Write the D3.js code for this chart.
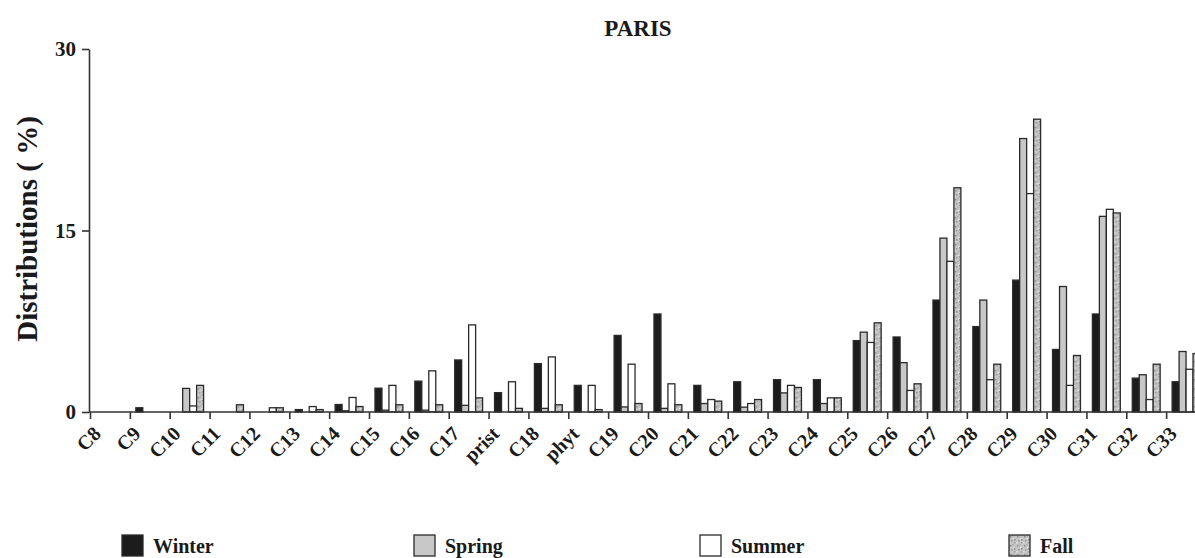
<!DOCTYPE html>
<html>
<head>
<meta charset="utf-8">
<script src="https://cdn.jsdelivr.net/npm/d3@7"></script>
<style>
  body { margin: 0; background: #fff; }
  text { font-family: "Liberation Serif", "Times New Roman", serif; font-weight: bold; fill: #1a1a1a; }
</style>
</head>
<body>
<div id="chart"></div>
<script>
var categories = ["C8", "C9", "C10", "C11", "C12", "C13", "C14", "C15", "C16", "C17", "prist", "C18", "phyt",
    "C19", "C20", "C21", "C22", "C23", "C24", "C25", "C26", "C27", "C28", "C29", "C30", "C31", "C32", "C33"];
var seasons = ["Winter", "Spring", "Summer", "Fall"];

var winter = [0, 0.35, 0, 0, 0, 0.2, 0.62, 1.97, 2.55, 4.3, 1.6, 4.0, 2.2, 6.33, 8.1, 2.2, 2.5, 2.67, 2.67, 5.9, 6.2, 9.25, 7.06, 10.9, 5.17, 8.1, 2.8, 2.5];
var spring = [0, 0, 1.95, 0, 0, 0, 0.1, 0.15, 0.15, 0.55, 0, 0.3, 0, 0.42, 0.3, 0.7, 0.4, 1.58, 0.7, 6.6, 4.08, 14.37, 9.25, 22.6, 10.37, 16.17, 3.08, 5.0];
var summer = [0, 0, 0.5, 0, 0.35, 0.45, 1.2, 2.2, 3.4, 7.2, 2.5, 4.55, 2.2, 3.95, 2.33, 1.03, 0.7, 2.2, 1.17, 5.75, 1.78, 12.45, 2.67, 18.05, 2.2, 16.75, 1.03, 3.53];
var fall = [0, 0, 2.2, 0.6, 0.35, 0.2, 0.45, 0.6, 0.6, 1.17, 0.3, 0.6, 0.2, 0.7, 0.6, 0.9, 1.03, 2.03, 1.17, 7.37, 2.33, 18.53, 3.95, 24.2, 4.67, 16.45, 3.95, 4.83];
var yTicks = [0, 15, 30];

function drawChart() {
    var w = 1195;
    var h = 558;
    var left = 89;
    var step = 39.857;
    var series = [winter, spring, summer, fall];

    var svg = d3.select("#chart")
        .append("svg")
        .attr("width", w)
        .attr("height", h);

    // speckled grey fill for the fall bars
    var pat = svg.append("defs").append("pattern")
        .attr("id", "speckle")
        .attr("patternUnits", "userSpaceOnUse")
        .attr("width", 7)
        .attr("height", 9);
    pat.append("rect").attr("width", 7).attr("height", 9).attr("fill", "#c4c4c4");
    [[1, 1, "#8e8e8e"], [4, 3, "#e6e6e6"], [2, 5, "#9a9a9a"], [5, 7, "#a2a2a2"], [0, 7, "#e0e0e0"], [3, 0, "#b0b0b0"], [5, 4, "#8a8a8a"]]
        .forEach(function(p) {
            pat.append("rect").attr("x", p[0]).attr("y", p[1]).attr("width", 1.5).attr("height", 1.5).attr("fill", p[2]);
        });

    var fills = ["#1c1c1c", "#c8c8c8", "#ffffff", "url(#speckle)"];

    var x = d3.scaleBand()
        .domain(categories)
        .range([left + 1, left + 1 + step * categories.length])
        .paddingInner(0.3)
        .paddingOuter(0.15);
    var xTick = d3.scalePoint()
        .domain(categories)
        .range([left + 1, left + 1 + step * (categories.length - 1)]);
    var xs = d3.scaleBand()
        .domain(seasons)
        .range([0, x.bandwidth()]);
    var y = d3.scaleLinear()
        .domain([0, 30])
        .range([412, 49]);

    // bars
    var groups = svg.selectAll("g.cat")
        .data(categories)
        .enter()
        .append("g")
        .attr("class", "cat")
        .attr("transform", function(d) { return "translate(" + x(d) + ",0)"; });

    groups.selectAll("rect")
        .data(function(d, i) {
            return seasons.map(function(s, j) { return { s: s, j: j, v: series[j][i] }; })
                .filter(function(e) { return e.v > 0; });
        })
        .enter()
        .append("rect")
        .attr("x", function(d) { return xs(d.s); })
        .attr("y", function(d) { return y(d.v); })
        .attr("width", xs.bandwidth())
        .attr("height", function(d) { return y(0) - y(d.v); })
        .attr("fill", function(d) { return fills[d.j]; })
        .attr("stroke", "#2a2a2a")
        .attr("stroke-width", 1.3);

    // x axis
    var xAxis = svg.append("g")
        .attr("transform", "translate(0," + y(0) + ")")
        .call(d3.axisBottom(xTick).tickSize(7).tickSizeOuter(0).tickFormat(""));
    xAxis.select(".domain").remove();
    xAxis.append("line")
        .attr("x1", left).attr("x2", w)
        .attr("stroke", "#333").attr("stroke-width", 1.6);
    xAxis.selectAll(".tick line").attr("stroke", "#333").attr("stroke-width", 1.6);

    // rotated category labels
    svg.append("g")
        .selectAll("text")
        .data(categories)
        .enter()
        .append("text")
        .attr("text-anchor", "end")
        .attr("font-size", "20px")
        .attr("transform", function(d) {
            return "translate(" + (xTick(d) + 12) + "," + (y(0) + 23) + ") rotate(-45)";
        })
        .text(function(d) { return d; });

    // y axis
    var yAxis = svg.append("g")
        .attr("transform", "translate(" + left + ",0)")
        .call(d3.axisLeft(y).tickValues(yTicks).tickSize(7).tickSizeOuter(0).tickPadding(6));
    yAxis.selectAll(".domain, .tick line").attr("stroke", "#333").attr("stroke-width", 1.6);
    yAxis.selectAll(".tick text")
        .attr("font-size", "21px")
        .attr("fill", "#1a1a1a");

    // title and axis label
    svg.append("text")
        .attr("x", 638)
        .attr("y", 36)
        .attr("text-anchor", "middle")
        .attr("font-size", "23px")
        .text("PARIS");

    svg.append("text")
        .attr("transform", "translate(37,229) rotate(-90)")
        .attr("text-anchor", "middle")
        .attr("font-size", "29px")
        .text("Distributions ( %)");

    // legend
    var legendX = [122, 414, 700, 1009];
    var legend = svg.selectAll("g.legend")
        .data(seasons)
        .enter()
        .append("g")
        .attr("class", "legend")
        .attr("transform", function(d, i) { return "translate(" + legendX[i] + ",535)"; });
    legend.append("rect")
        .attr("width", 21)
        .attr("height", 21)
        .attr("fill", function(d, i) { return fills[i]; })
        .attr("stroke", "#2a2a2a")
        .attr("stroke-width", 1.3);
    legend.append("text")
        .attr("x", 31)
        .attr("y", 18)
        .attr("font-size", "20px")
        .text(function(d) { return d; });
}

drawChart();
</script>
</body>
</html>
